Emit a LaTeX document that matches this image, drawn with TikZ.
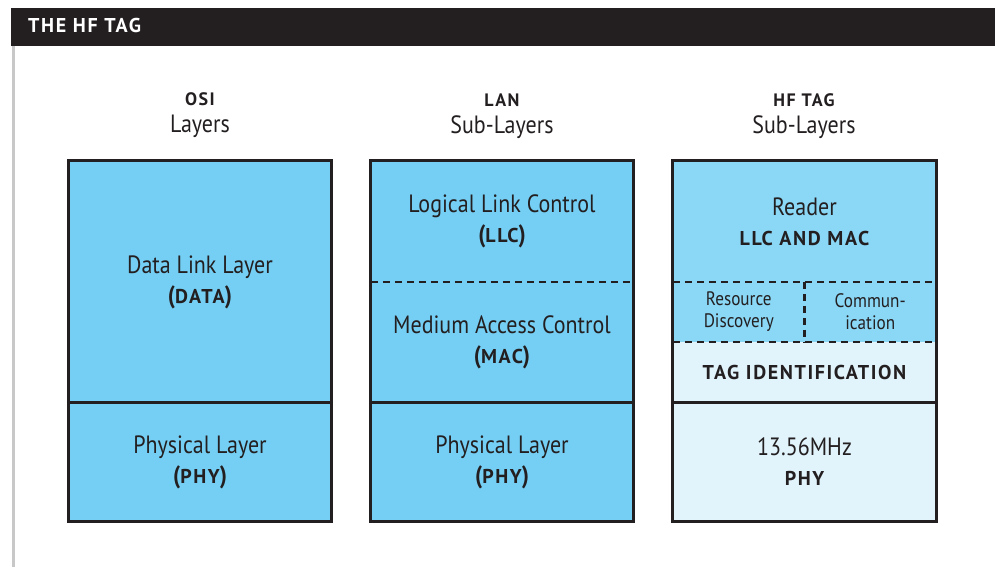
\documentclass[tikz,border=0pt]{standalone}
\usepackage{fontspec}
\setmainfont{PT Sans}[FakeStretch=0.88]
\newfontfamily\capsfont{PT Sans}[LetterSpace=8]
\definecolor{barblack}{HTML}{231F20}
\definecolor{osiblue}{HTML}{75CFF4}
\definecolor{readerblue}{HTML}{8AD7F6}
\definecolor{tagpale}{HTML}{E1F3FB}
\definecolor{sidegray}{HTML}{C8C8C8}
\newcommand{\capsb}[2][20]{{\capsfont\bfseries\fontsize{#1}{24}\selectfont#2}}
\tikzset{
  cell/.style={inner sep=0pt, align=center, text=barblack,
    font=\fontsize{25}{30}\selectfont},
  smallcell/.style={cell, font=\fontsize{19.5}{22}\selectfont},
  head/.style={inner sep=0pt, align=center, text=barblack,
    font=\fontsize{25}{27}\selectfont, anchor=south},
  frame/.style={draw=barblack, line width=3pt},
  divide/.style={draw=barblack, line width=3pt},
  dashdiv/.style={draw=barblack, line width=2.5pt, dash pattern=on 7pt off 5pt},
}
\begin{document}
\begin{tikzpicture}[x=1pt, y=-1pt]
\useasboundingbox (0,0) rectangle (995,567);
% Title bar
\fill[barblack] (11,8) rectangle (995,46);
\node[anchor=base west, inner sep=0pt, text=white,
  font=\capsfont\bfseries\fontsize{20}{24}\selectfont] (title) at (28,33) {THE HF TAG};
\draw[sidegray, line width=3pt] (13.5,46) -- (13.5,567);
% Column heads
\node[head] (osihead) at (200,138) {\capsb[18]{OSI}\\Layers};
\node[head] (lanhead) at (502,139) {\capsb[18]{LAN}\\Sub-Layers};
\node[head] (hfhead) at (804,139) {\capsb[18]{HF TAG}\\Sub-Layers};
% OSI layers
\node[cell, fill=osiblue, minimum width=262pt, minimum height=242pt] (osidata) at (200,282) {Data Link Layer\\{\bfseries(\capsb{DATA})}};
\node[cell, fill=osiblue, minimum width=262pt, minimum height=118pt] (osiphy) at (200,462) {Physical Layer\\{\bfseries(\capsb{PHY})}};
% LAN sub-layers
\node[cell, fill=osiblue, minimum width=262pt, minimum height=121pt] (lanllc) at (502,221.5) {Logical Link Control\\{\bfseries(\capsb{LLC})}};
\node[cell, fill=osiblue, minimum width=262pt, minimum height=121pt] (lanmac) at (502,342.5) {Medium Access Control\\{\bfseries(\capsb{MAC})}};
\node[cell, fill=osiblue, minimum width=262pt, minimum height=118pt] (lanphy) at (502,462) {Physical Layer\\{\bfseries(\capsb{PHY})}};
% HF tag sub-layers
\node[cell, fill=readerblue, minimum width=263pt, minimum height=121pt] (hfreader) at (804.5,221.5) {Reader\\\capsb{LLC AND MAC}};
\node[smallcell, fill=readerblue, minimum width=131.5pt, minimum height=60pt] (hfres) at (738.75,312) {Resource\\Discovery};
\node[smallcell, fill=readerblue, minimum width=131.5pt, minimum height=60pt] (hfcom) at (870.25,312) {Commun-\\ication};
\node[cell, fill=tagpale, minimum width=263pt, minimum height=61pt] (hftag) at (804.5,372.5) {\capsb{TAG IDENTIFICATION}};
\node[cell, fill=tagpale, minimum width=263pt, minimum height=118pt] (hfphy) at (804.5,462) {13.56MHz\\\capsb{PHY}};
% Dividers
\draw[divide] (osiphy.north west) -- (osiphy.north east);
\draw[dashdiv] (lanllc.south west) -- (lanllc.south east);
\draw[divide] (lanphy.north west) -- (lanphy.north east);
\draw[dashdiv] (hfreader.south west) -- (hfreader.south east);
\draw[dashdiv] (hfres.south west) -- (hfcom.south east);
\draw[dashdiv] (hfres.north east) -- (hfres.south east);
\draw[divide] (hfphy.north west) -- (hfphy.north east);
% Frames
\draw[frame] (osidata.north west) rectangle (osiphy.south east);
\draw[frame] (lanllc.north west) rectangle (lanphy.south east);
\draw[frame] (hfreader.north west) rectangle (hfphy.south east);
\end{tikzpicture}
\end{document}
